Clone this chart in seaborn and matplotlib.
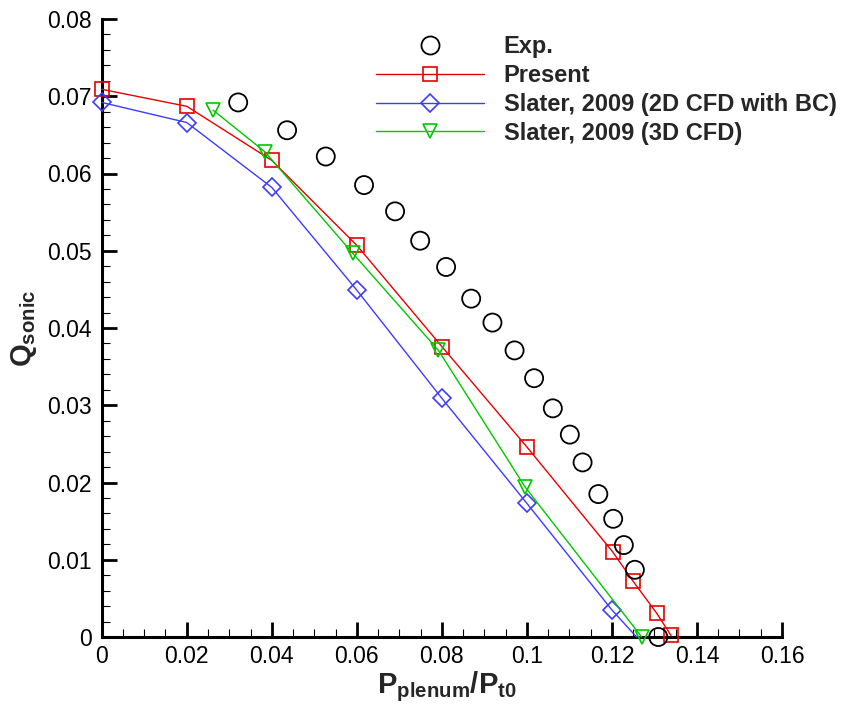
import matplotlib
matplotlib.use("Agg")
import matplotlib.pyplot as plt
from matplotlib.lines import Line2D
from matplotlib.ticker import MultipleLocator, FuncFormatter
import seaborn as sns
import pandas as pd

# ---------------- data ----------------
exp_x = [0.0321, 0.0436, 0.0527, 0.0617, 0.0690, 0.0749, 0.0810, 0.0869, 0.0919,
         0.0971, 0.1017, 0.1061, 0.1101, 0.1131, 0.1168, 0.1203, 0.1228, 0.1254, 0.1309]
exp_y = [0.0692, 0.0656, 0.0622, 0.0585, 0.0551, 0.0513, 0.0479, 0.0438, 0.0407,
         0.0371, 0.0335, 0.0296, 0.0262, 0.0226, 0.0185, 0.0153, 0.0119, 0.0087, 0.0000]

present_x = [0.0, 0.02, 0.04, 0.06, 0.08, 0.10, 0.1202, 0.1250, 0.1305, 0.1339]
present_y = [0.0709, 0.0687, 0.0617, 0.0507, 0.0376, 0.0246, 0.0110, 0.0072, 0.0031, 0.0002]

slater2d_x = [0.0, 0.02, 0.04, 0.06, 0.08, 0.10, 0.1200, 0.1258]
slater2d_y = [0.0692, 0.0666, 0.0582, 0.0449, 0.0309, 0.0173, 0.0035, 0.0]

slater3d_x = [0.0262, 0.0384, 0.0590, 0.0792, 0.0996, 0.1270]
slater3d_y = [0.0682, 0.0628, 0.0497, 0.0371, 0.0194, 0.0]

labels = ["Exp.", "Present", "Slater, 2009 (2D CFD with BC)", "Slater, 2009 (3D CFD)"]
x_ticks = [0, 0.02, 0.04, 0.06, 0.08, 0.1, 0.12, 0.14, 0.16]
y_ticks = [0, 0.01, 0.02, 0.03, 0.04, 0.05, 0.06, 0.07, 0.08]

RED = "#e80000"
BLUE = "#3c3cff"
GREEN = "#00c800"

# ---------------- figure ----------------
sns.set_theme(style="white")
plt.rcParams["font.family"] = ["Liberation Sans", "DejaVu Sans"]
plt.rcParams["mathtext.fontset"] = "custom"
plt.rcParams["mathtext.rm"] = "Liberation Sans"
plt.rcParams["mathtext.bf"] = "Liberation Sans:bold"
plt.rcParams["mathtext.it"] = "Liberation Sans:italic"

fig = plt.figure(figsize=(8.5, 7.1), dpi=100)
ax = fig.add_axes([101.7 / 850, 1 - 637 / 710, (782 - 101.7) / 850, (637 - 19) / 710])

df_exp = pd.DataFrame({"x": exp_x, "y": exp_y})
df_p = pd.DataFrame({"x": present_x, "y": present_y})
df_2d = pd.DataFrame({"x": slater2d_x, "y": slater2d_y})
df_3d = pd.DataFrame({"x": slater3d_x, "y": slater3d_y})

line_kw = dict(estimator=None, sort=False, linewidth=1.0, markerfacecolor="none",
               markeredgewidth=1.2, clip_on=False, zorder=3, legend=False)

sns.lineplot(data=df_p, x="x", y="y", ax=ax, color=RED, marker="s", markersize=9.5,
             markeredgecolor=RED, **line_kw)
sns.lineplot(data=df_2d, x="x", y="y", ax=ax, color=BLUE, marker="D", markersize=9,
             markeredgecolor=BLUE, markevery=list(range(len(slater2d_x) - 1)), **line_kw)
sns.lineplot(data=df_3d, x="x", y="y", ax=ax, color=GREEN, marker="v", markersize=10.5,
             markeredgecolor=GREEN, **line_kw)
sns.scatterplot(data=df_exp, x="x", y="y", ax=ax, marker="o", s=13 ** 2,
                facecolor="none", edgecolor="black", linewidth=1.3, clip_on=False,
                zorder=4, legend=False)

ax.set_xlim(0, 0.16)
ax.set_ylim(0, 0.08)
ax.set_xticks(x_ticks)
ax.set_yticks(y_ticks)
fmt = FuncFormatter(lambda v, p: "0" if abs(v) < 1e-12 else f"{v:g}")
ax.xaxis.set_major_formatter(fmt)
ax.yaxis.set_major_formatter(fmt)
ax.xaxis.set_minor_locator(MultipleLocator(0.005))
ax.yaxis.set_minor_locator(MultipleLocator(0.002))

for s in ["top", "right"]:
    ax.spines[s].set_visible(False)
for s in ["left", "bottom"]:
    ax.spines[s].set_visible(True)
    ax.spines[s].set_linewidth(2.2)
    ax.spines[s].set_color("black")
ax.grid(False)
ax.set_facecolor("white")

ax.tick_params(which="major", direction="in", length=11, width=2.0, colors="black",
               labelsize=16.5, pad=6)
ax.tick_params(which="minor", direction="in", length=6, width=0.8, colors="black")
ax.tick_params(axis="x", which="both", bottom=True, top=False)
ax.tick_params(axis="y", which="both", left=True, right=False)
ax.tick_params(axis="y", which="major", pad=7)

ax.set_xlabel(r"$\mathbf{P_{plenum}/P_{t0}}$", fontsize=21)
ax.xaxis.set_label_coords((447 - 101.7) / 680.3, -0.053, transform=ax.transAxes)
ax.xaxis.label.set_va("top")
ax.set_ylabel(r"$\mathbf{Q_{sonic}}$", fontsize=21, labelpad=6)

handles = [
    Line2D([], [], linestyle="none", marker="o", markersize=13, markerfacecolor="none",
           markeredgecolor="black", markeredgewidth=1.3),
    Line2D([], [], color=RED, linewidth=1.0, marker="s", markersize=9.5,
           markerfacecolor="none", markeredgecolor=RED, markeredgewidth=1.2),
    Line2D([], [], color=BLUE, linewidth=1.0, marker="D", markersize=9,
           markerfacecolor="none", markeredgecolor=BLUE, markeredgewidth=1.2),
    Line2D([], [], color=GREEN, linewidth=1.0, marker="v", markersize=10.5,
           markerfacecolor="none", markeredgecolor=GREEN, markeredgewidth=1.2),
]
leg = fig.legend(handles, labels, loc="upper left", bbox_to_anchor=(376 / 850, 1 - 35 / 710),
                 frameon=False, borderpad=0, borderaxespad=0, handlelength=4.57,
                 handletextpad=0.83, labelspacing=0.25, prop={"weight": "bold", "size": 17})

fig.savefig("out.png", dpi=100, facecolor="white")
